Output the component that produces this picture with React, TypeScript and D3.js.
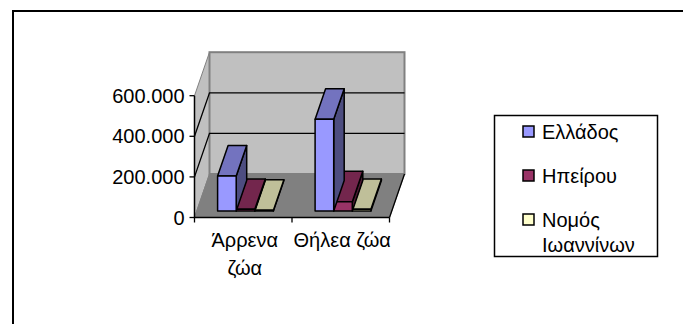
import React from 'react';
import * as d3 from 'd3';

const categories = [['Άρρενα', 'ζώα'], ['Θήλεα ζώα']];
const seriesNames = [['Ελλάδος'], ['Ηπείρου'], ['Νομός', 'Ιωαννίνων']];
const ellados = [172000, 452000];
const ipeirou = [8000, 46000];
const ioannina = [4000, 8000];
const tickValues = [0, 200000, 400000, 600000];
const tickLabels = ['0', '200.000', '400.000', '600.000'];
const maxValue = 600000;
const colors = ['#9999FF', '#993366', '#FFFFCC'];

const font = '"Liberation Sans", Arial, sans-serif';
const fontSize = 20;

// front plane of the 3d box
const x0 = 194.5;
const x1 = 389.5;
const y0 = 217.5;
const yTop = 95.7;
// how far back the depth goes
const depthX = 15;
const depthY = -43.5;

const App = () => {
  const y = d3.scaleLinear().domain([0, maxValue]).range([y0, yTop]);
  const x = d3.scaleBand<number>().domain([0, 1]).range([x0, x1]);
  const barW = 18.6;
  const groupPad = (x.bandwidth() - barW * 3) / 2;
  const inner = d3.scaleBand<number>().domain([0, 1, 2]).range([groupPad, groupPad + barW * 3]);

  const series = [ellados, ipeirou, ioannina];
  const pts = (p: number[][]) => p.map((d) => d.join(',')).join(' ');

  // bars sit from 15% to 85% of the floor depth
  const fr = 0.15;
  const fb = 0.85;

  const wallTop = yTop + depthY;

  const bars: React.ReactNode[] = [];
  [0, 1].forEach((c) => {
    // all in one row: draw right to left
    [2, 1, 0].forEach((s) => {
      const v = series[s][c];
      const h = y0 - y(v);
      const left = (x(c) as number) + (inner(s) as number) + depthX * fr;
      const right = left + barW;
      const bottom = y0 + depthY * fr;
      const top = bottom - h;
      const dx = depthX * (fb - fr);
      const dy = depthY * (fb - fr);
      const col = d3.color(colors[s]) as d3.RGBColor;
      const shade = (k: number) => d3.rgb(col.r * k, col.g * k, col.b * k).formatHex();
      bars.push(
        <g key={`${c}-${s}`} stroke="#000" strokeWidth={1.5} strokeLinejoin="round">
          <polygon points={pts([[right, bottom], [right + dx, bottom + dy], [right + dx, top + dy], [right, top]])} fill={shade(0.5)} />
          <polygon points={pts([[left, top], [left + dx, top + dy], [right + dx, top + dy], [right, top]])} fill={shade(0.75)} />
          <rect x={left} y={top} width={barW} height={h} fill={colors[s]} />
        </g>
      );
    });
  });

  return (
    <svg width={683} height={324} style={{ position: 'absolute', left: 0, top: 0, background: '#fff' }} fontFamily={font}>
      <path d="M13,324V11H683" fill="none" stroke="#000" strokeWidth={2} />

      {/* walls */}
      <polygon points={pts([[x0, y0], [x0 + depthX, y0 + depthY], [x0 + depthX, wallTop], [x0, yTop]])} fill="#C0C0C0" stroke="#808080" strokeWidth={1} />
      <rect x={x0 + depthX} y={wallTop} width={x1 - x0} height={y0 + depthY - wallTop} fill="#C0C0C0" stroke="#808080" strokeWidth={2} />
      <polygon points={pts([[x0, y0], [x1, y0], [x1 + depthX, y0 + depthY], [x0 + depthX, y0 + depthY]])} fill="#808080" stroke="#808080" strokeWidth={1} />

      {/* gridlines, the top one is just the wall edge */}
      {tickValues.slice(1, -1).map((t) => (
        <path
          key={t}
          d={`M${x0},${y(t)}L${x0 + depthX},${y(t) + depthY}H${x1 + depthX}`}
          fill="none"
          stroke="#000"
          strokeWidth={1.3}
        />
      ))}
      <path d={`M${x1},${y0}L${x1 + depthX},${y0 + depthY}`} stroke="#000" strokeWidth={1.3} />

      {bars}

      {/* axes */}
      <path d={`M${x0},${yTop}V${y0}H${x1}`} fill="none" stroke="#000" strokeWidth={1.5} />
      {tickValues.map((t, i) => (
        <g key={t}>
          <line x1={x0 - 5} x2={x0} y1={y(t)} y2={y(t)} stroke="#000" strokeWidth={1.3} />
          <text x={184.5} y={y(t) + 7} textAnchor="end" fontSize={fontSize} fill="#000">{tickLabels[i]}</text>
        </g>
      ))}
      {[x0, x0 + x.bandwidth(), x1].map((d) => (
        <line key={d} x1={d} x2={d} y1={y0} y2={y0 + 5} stroke="#000" strokeWidth={1.3} />
      ))}
      {categories.map((lines, c) =>
        lines.map((line, i) => (
          <text key={line} x={(x(c) as number) + x.bandwidth() / 2 + 1.5} y={246.7 + i * 28.3} textAnchor="middle" fontSize={fontSize} fill="#000">{line}</text>
        ))
      )}

      {/* legend */}
      <rect x={494.5} y={115.5} width={163} height={141} fill="#fff" stroke="#000" strokeWidth={1.5} />
      {seriesNames.map((lines, s) => {
        const rowY = [131.5, 175.5, 219.5][s];
        return (
          <g key={s}>
            <rect x={523} y={rowY - 5.5} width={11} height={11} fill={colors[s]} stroke="#000" strokeWidth={1.5} />
            {lines.map((line, i) => (
              <text key={line} x={542} y={rowY + 7.5 + i * 25} fontSize={fontSize} fill="#000">{line}</text>
            ))}
          </g>
        );
      })}
    </svg>
  );
};

export default App;
